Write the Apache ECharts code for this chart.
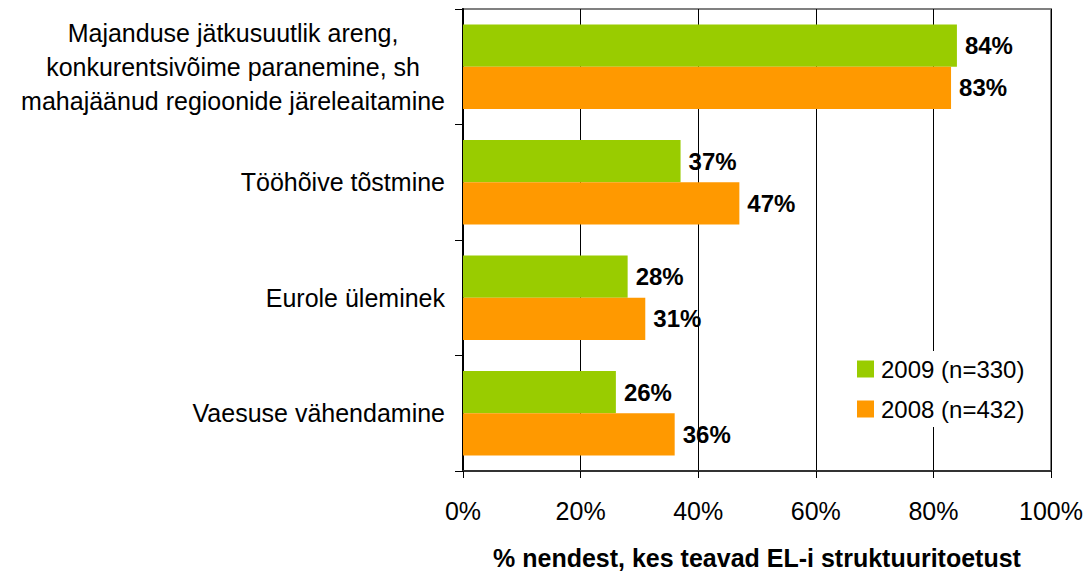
<!DOCTYPE html>
<html>
<head>
<meta charset="utf-8">
<script src="https://cdn.jsdelivr.net/npm/echarts@6/dist/echarts.min.js"></script>
<style>
  html, body { margin: 0; padding: 0; background: #fff; }
  #chart { width: 1090px; height: 573px; }
</style>
</head>
<body>
<div id="chart"></div>
<script>
// categories top to bottom
const categories = [
  'Majanduse jätkusuutlik areng,\nkonkurentsivõime paranemine, sh\nmahajäänud regioonide järeleaitamine',
  'Tööhõive tõstmine',
  'Eurole üleminek',
  'Vaesuse vähendamine'
];
const values2009 = [84, 37, 28, 26];
const values2008 = [83, 47, 31, 36];
const seriesNames = ['2009 (n=330)', '2008 (n=432)'];
const xTicks = [0, 20, 40, 60, 80, 100];

const FONT = 'Liberation Sans';
const GREEN = '#99CC00';
const ORANGE = '#FF9900';

const label = {
  show: true,
  position: 'right',
  distance: 8,
  formatter: '{c}%',
  color: '#000',
  fontWeight: 'bold',
  fontSize: 24,
  fontFamily: FONT
};

// multi-line labels: lines centred within a right-aligned block
const catLabel = v => v.split('\n').map(l => '{c|' + l + '}').join('\n');

const chart = echarts.init(document.getElementById('chart'), null, { renderer: 'svg' });
chart.setOption({
  animation: false,
  textStyle: { fontFamily: FONT },
  grid: {
    left: 463, right: 39, top: 9, bottom: 102,
    outerBoundsMode: 'none',
    containLabel: false,
    show: true, borderColor: '#808080', borderWidth: 2
  },
  legend: {
    orient: 'vertical',
    left: 853, top: 351,
    itemWidth: 17, itemHeight: 17, itemGap: 16,
    backgroundColor: '#fff',
    padding: [6, 4, 6, 4],
    icon: 'rect',
    textStyle: { fontSize: 24, color: '#000', fontFamily: FONT, padding: [0, 0, 0, 2] },
    data: seriesNames
  },
  xAxis: {
    type: 'value',
    min: xTicks[0], max: xTicks[xTicks.length - 1], interval: 20,
    axisLine: { show: true, lineStyle: { color: '#333', width: 2 } },
    axisTick: { show: true, length: 7, lineStyle: { color: '#000' } },
    splitLine: { show: true, lineStyle: { color: '#000', width: 1 } },
    axisLabel: { formatter: '{value}%', fontSize: 25, color: '#000', margin: 27 },
    name: '% nendest, kes teavad EL-i struktuuritoetust',
    nameLocation: 'middle',
    nameGap: 74,
    nameTextStyle: { fontSize: 25, fontWeight: 'bold', color: '#000' }
  },
  yAxis: {
    type: 'category',
    inverse: true,
    data: categories,
    axisLine: { show: true, lineStyle: { color: '#000', width: 2 } },
    axisTick: { show: true, length: 8, lineStyle: { color: '#000' } },
    axisLabel: {
      fontSize: 25, color: '#000', margin: 18, lineHeight: 34, align: 'right',
      formatter: catLabel,
      rich: { c: { align: 'center', fontSize: 25, lineHeight: 34, color: '#000', fontFamily: FONT } }
    }
  },
  series: [
    {
      name: seriesNames[0], type: 'bar', data: values2009,
      itemStyle: { color: GREEN }, barGap: '0%', barCategoryGap: '27%', label
    },
    {
      name: seriesNames[1], type: 'bar', data: values2008,
      itemStyle: { color: ORANGE }, barGap: '0%', barCategoryGap: '27%', label
    }
  ]
});
</script>
</body>
</html>
